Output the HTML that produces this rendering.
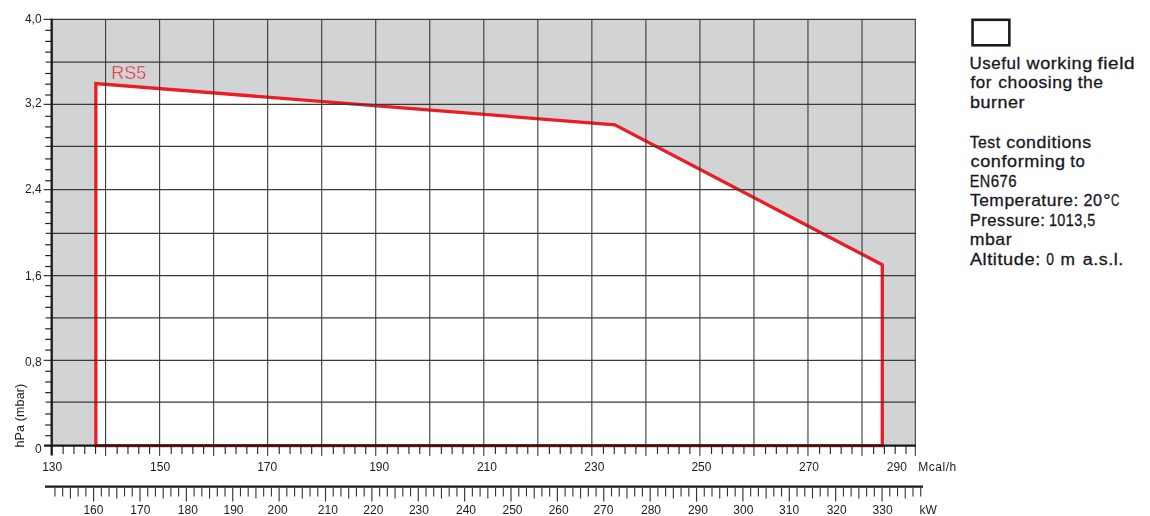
<!DOCTYPE html>
<html><head><meta charset="utf-8"><title>RS5 working field</title>
<style>
html,body{margin:0;padding:0;background:#fff}
body{width:1150px;height:516px;position:relative;overflow:hidden;font-family:"Liberation Sans",sans-serif}
.lg{position:absolute;left:970px;font-size:15px;line-height:18px;height:18px;white-space:nowrap;color:#16161e;letter-spacing:0.3px;transform-origin:0 0;-webkit-text-stroke:0.35px #16161e}
</style></head><body>
<svg width="1150" height="516" viewBox="0 0 1150 516" style="position:absolute;left:0;top:0">
<rect x="51.7" y="19.4" width="863.60" height="426.20" fill="#d1d3d4"/>
<polygon points="95.85,445.60 95.85,83.50 614.90,124.80 882.30,264.80 882.30,445.60" fill="#ffffff"/>
<polygon points="95.85,445.60 95.85,83.50 614.90,124.80 882.30,264.80 882.30,445.60" fill="none" stroke="#ed1c24" stroke-width="3.3" stroke-linejoin="miter"/>
<line x1="105.58" y1="19.4" x2="105.58" y2="456.0" stroke="#3a3a3a" stroke-width="1.1"/>
<line x1="159.61" y1="19.4" x2="159.61" y2="456.0" stroke="#3a3a3a" stroke-width="1.1"/>
<line x1="213.64" y1="19.4" x2="213.64" y2="456.0" stroke="#3a3a3a" stroke-width="1.1"/>
<line x1="267.67" y1="19.4" x2="267.67" y2="456.0" stroke="#3a3a3a" stroke-width="1.1"/>
<line x1="321.70" y1="19.4" x2="321.70" y2="456.0" stroke="#3a3a3a" stroke-width="1.1"/>
<line x1="375.73" y1="19.4" x2="375.73" y2="456.0" stroke="#3a3a3a" stroke-width="1.1"/>
<line x1="429.76" y1="19.4" x2="429.76" y2="456.0" stroke="#3a3a3a" stroke-width="1.1"/>
<line x1="483.79" y1="19.4" x2="483.79" y2="456.0" stroke="#3a3a3a" stroke-width="1.1"/>
<line x1="537.82" y1="19.4" x2="537.82" y2="456.0" stroke="#3a3a3a" stroke-width="1.1"/>
<line x1="591.85" y1="19.4" x2="591.85" y2="456.0" stroke="#3a3a3a" stroke-width="1.1"/>
<line x1="645.88" y1="19.4" x2="645.88" y2="456.0" stroke="#3a3a3a" stroke-width="1.1"/>
<line x1="699.91" y1="19.4" x2="699.91" y2="456.0" stroke="#3a3a3a" stroke-width="1.1"/>
<line x1="753.94" y1="19.4" x2="753.94" y2="456.0" stroke="#3a3a3a" stroke-width="1.1"/>
<line x1="807.97" y1="19.4" x2="807.97" y2="456.0" stroke="#3a3a3a" stroke-width="1.1"/>
<line x1="862.00" y1="19.4" x2="862.00" y2="456.0" stroke="#3a3a3a" stroke-width="1.1"/>
<line x1="915.30" y1="19.4" x2="915.30" y2="456.0" stroke="#3a3a3a" stroke-width="1.1"/>
<line x1="43.6" y1="19.40" x2="915.90" y2="19.40" stroke="#3a3a3a" stroke-width="1.25"/>
<line x1="45.6" y1="62.10" x2="915.90" y2="62.10" stroke="#3a3a3a" stroke-width="1.25"/>
<line x1="43.6" y1="104.40" x2="915.90" y2="104.40" stroke="#3a3a3a" stroke-width="1.25"/>
<line x1="45.6" y1="146.30" x2="915.90" y2="146.30" stroke="#3a3a3a" stroke-width="1.25"/>
<line x1="43.6" y1="189.70" x2="915.90" y2="189.70" stroke="#3a3a3a" stroke-width="1.25"/>
<line x1="45.6" y1="233.40" x2="915.90" y2="233.40" stroke="#3a3a3a" stroke-width="1.25"/>
<line x1="43.6" y1="275.50" x2="915.90" y2="275.50" stroke="#3a3a3a" stroke-width="1.25"/>
<line x1="45.6" y1="317.90" x2="915.90" y2="317.90" stroke="#3a3a3a" stroke-width="1.25"/>
<line x1="43.6" y1="360.40" x2="915.90" y2="360.40" stroke="#3a3a3a" stroke-width="1.25"/>
<line x1="45.6" y1="402.20" x2="915.90" y2="402.20" stroke="#3a3a3a" stroke-width="1.25"/>
<line x1="45.2" y1="30.40" x2="51.7" y2="30.40" stroke="#222" stroke-width="1.2"/>
<line x1="45.2" y1="41.40" x2="51.7" y2="41.40" stroke="#222" stroke-width="1.2"/>
<line x1="45.2" y1="52.10" x2="51.7" y2="52.10" stroke="#222" stroke-width="1.2"/>
<line x1="45.2" y1="73.50" x2="51.7" y2="73.50" stroke="#222" stroke-width="1.2"/>
<line x1="45.2" y1="84.20" x2="51.7" y2="84.20" stroke="#222" stroke-width="1.2"/>
<line x1="45.2" y1="95.00" x2="51.7" y2="95.00" stroke="#222" stroke-width="1.2"/>
<line x1="45.2" y1="116.30" x2="51.7" y2="116.30" stroke="#222" stroke-width="1.2"/>
<line x1="45.2" y1="126.90" x2="51.7" y2="126.90" stroke="#222" stroke-width="1.2"/>
<line x1="45.2" y1="137.60" x2="51.7" y2="137.60" stroke="#222" stroke-width="1.2"/>
<line x1="45.2" y1="158.90" x2="51.7" y2="158.90" stroke="#222" stroke-width="1.2"/>
<line x1="45.2" y1="169.70" x2="51.7" y2="169.70" stroke="#222" stroke-width="1.2"/>
<line x1="45.2" y1="180.80" x2="51.7" y2="180.80" stroke="#222" stroke-width="1.2"/>
<line x1="45.2" y1="201.90" x2="51.7" y2="201.90" stroke="#222" stroke-width="1.2"/>
<line x1="45.2" y1="212.70" x2="51.7" y2="212.70" stroke="#222" stroke-width="1.2"/>
<line x1="45.2" y1="223.50" x2="51.7" y2="223.50" stroke="#222" stroke-width="1.2"/>
<line x1="45.2" y1="244.80" x2="51.7" y2="244.80" stroke="#222" stroke-width="1.2"/>
<line x1="45.2" y1="255.60" x2="51.7" y2="255.60" stroke="#222" stroke-width="1.2"/>
<line x1="45.2" y1="266.50" x2="51.7" y2="266.50" stroke="#222" stroke-width="1.2"/>
<line x1="45.2" y1="285.70" x2="51.7" y2="285.70" stroke="#222" stroke-width="1.2"/>
<line x1="45.2" y1="296.50" x2="51.7" y2="296.50" stroke="#222" stroke-width="1.2"/>
<line x1="45.2" y1="307.40" x2="51.7" y2="307.40" stroke="#222" stroke-width="1.2"/>
<line x1="45.2" y1="328.80" x2="51.7" y2="328.80" stroke="#222" stroke-width="1.2"/>
<line x1="45.2" y1="339.40" x2="51.7" y2="339.40" stroke="#222" stroke-width="1.2"/>
<line x1="45.2" y1="350.10" x2="51.7" y2="350.10" stroke="#222" stroke-width="1.2"/>
<line x1="45.2" y1="371.30" x2="51.7" y2="371.30" stroke="#222" stroke-width="1.2"/>
<line x1="45.2" y1="382.00" x2="51.7" y2="382.00" stroke="#222" stroke-width="1.2"/>
<line x1="45.2" y1="392.60" x2="51.7" y2="392.60" stroke="#222" stroke-width="1.2"/>
<line x1="45.2" y1="414.00" x2="51.7" y2="414.00" stroke="#222" stroke-width="1.2"/>
<line x1="45.2" y1="425.00" x2="51.7" y2="425.00" stroke="#222" stroke-width="1.2"/>
<line x1="45.2" y1="435.70" x2="51.7" y2="435.70" stroke="#222" stroke-width="1.2"/>
<line x1="63.15" y1="445.6" x2="63.15" y2="453.90000000000003" stroke="#2a2a2a" stroke-width="1.15"/>
<line x1="73.95" y1="445.6" x2="73.95" y2="453.90000000000003" stroke="#2a2a2a" stroke-width="1.15"/>
<line x1="84.75" y1="445.6" x2="84.75" y2="453.90000000000003" stroke="#2a2a2a" stroke-width="1.15"/>
<line x1="95.55" y1="445.6" x2="95.55" y2="453.90000000000003" stroke="#2a2a2a" stroke-width="1.15"/>
<line x1="117.18" y1="445.6" x2="117.18" y2="453.90000000000003" stroke="#2a2a2a" stroke-width="1.15"/>
<line x1="127.98" y1="445.6" x2="127.98" y2="453.90000000000003" stroke="#2a2a2a" stroke-width="1.15"/>
<line x1="138.78" y1="445.6" x2="138.78" y2="453.90000000000003" stroke="#2a2a2a" stroke-width="1.15"/>
<line x1="149.58" y1="445.6" x2="149.58" y2="453.90000000000003" stroke="#2a2a2a" stroke-width="1.15"/>
<line x1="171.21" y1="445.6" x2="171.21" y2="453.90000000000003" stroke="#2a2a2a" stroke-width="1.15"/>
<line x1="182.01" y1="445.6" x2="182.01" y2="453.90000000000003" stroke="#2a2a2a" stroke-width="1.15"/>
<line x1="192.81" y1="445.6" x2="192.81" y2="453.90000000000003" stroke="#2a2a2a" stroke-width="1.15"/>
<line x1="203.61" y1="445.6" x2="203.61" y2="453.90000000000003" stroke="#2a2a2a" stroke-width="1.15"/>
<line x1="225.24" y1="445.6" x2="225.24" y2="453.90000000000003" stroke="#2a2a2a" stroke-width="1.15"/>
<line x1="236.04" y1="445.6" x2="236.04" y2="453.90000000000003" stroke="#2a2a2a" stroke-width="1.15"/>
<line x1="246.84" y1="445.6" x2="246.84" y2="453.90000000000003" stroke="#2a2a2a" stroke-width="1.15"/>
<line x1="257.64" y1="445.6" x2="257.64" y2="453.90000000000003" stroke="#2a2a2a" stroke-width="1.15"/>
<line x1="279.27" y1="445.6" x2="279.27" y2="453.90000000000003" stroke="#2a2a2a" stroke-width="1.15"/>
<line x1="290.07" y1="445.6" x2="290.07" y2="453.90000000000003" stroke="#2a2a2a" stroke-width="1.15"/>
<line x1="300.87" y1="445.6" x2="300.87" y2="453.90000000000003" stroke="#2a2a2a" stroke-width="1.15"/>
<line x1="311.67" y1="445.6" x2="311.67" y2="453.90000000000003" stroke="#2a2a2a" stroke-width="1.15"/>
<line x1="333.30" y1="445.6" x2="333.30" y2="453.90000000000003" stroke="#2a2a2a" stroke-width="1.15"/>
<line x1="344.10" y1="445.6" x2="344.10" y2="453.90000000000003" stroke="#2a2a2a" stroke-width="1.15"/>
<line x1="354.90" y1="445.6" x2="354.90" y2="453.90000000000003" stroke="#2a2a2a" stroke-width="1.15"/>
<line x1="365.70" y1="445.6" x2="365.70" y2="453.90000000000003" stroke="#2a2a2a" stroke-width="1.15"/>
<line x1="387.33" y1="445.6" x2="387.33" y2="453.90000000000003" stroke="#2a2a2a" stroke-width="1.15"/>
<line x1="398.13" y1="445.6" x2="398.13" y2="453.90000000000003" stroke="#2a2a2a" stroke-width="1.15"/>
<line x1="408.93" y1="445.6" x2="408.93" y2="453.90000000000003" stroke="#2a2a2a" stroke-width="1.15"/>
<line x1="419.73" y1="445.6" x2="419.73" y2="453.90000000000003" stroke="#2a2a2a" stroke-width="1.15"/>
<line x1="441.36" y1="445.6" x2="441.36" y2="453.90000000000003" stroke="#2a2a2a" stroke-width="1.15"/>
<line x1="452.16" y1="445.6" x2="452.16" y2="453.90000000000003" stroke="#2a2a2a" stroke-width="1.15"/>
<line x1="462.96" y1="445.6" x2="462.96" y2="453.90000000000003" stroke="#2a2a2a" stroke-width="1.15"/>
<line x1="473.76" y1="445.6" x2="473.76" y2="453.90000000000003" stroke="#2a2a2a" stroke-width="1.15"/>
<line x1="495.39" y1="445.6" x2="495.39" y2="453.90000000000003" stroke="#2a2a2a" stroke-width="1.15"/>
<line x1="506.19" y1="445.6" x2="506.19" y2="453.90000000000003" stroke="#2a2a2a" stroke-width="1.15"/>
<line x1="516.99" y1="445.6" x2="516.99" y2="453.90000000000003" stroke="#2a2a2a" stroke-width="1.15"/>
<line x1="527.79" y1="445.6" x2="527.79" y2="453.90000000000003" stroke="#2a2a2a" stroke-width="1.15"/>
<line x1="549.42" y1="445.6" x2="549.42" y2="453.90000000000003" stroke="#2a2a2a" stroke-width="1.15"/>
<line x1="560.22" y1="445.6" x2="560.22" y2="453.90000000000003" stroke="#2a2a2a" stroke-width="1.15"/>
<line x1="571.02" y1="445.6" x2="571.02" y2="453.90000000000003" stroke="#2a2a2a" stroke-width="1.15"/>
<line x1="581.82" y1="445.6" x2="581.82" y2="453.90000000000003" stroke="#2a2a2a" stroke-width="1.15"/>
<line x1="603.45" y1="445.6" x2="603.45" y2="453.90000000000003" stroke="#2a2a2a" stroke-width="1.15"/>
<line x1="614.25" y1="445.6" x2="614.25" y2="453.90000000000003" stroke="#2a2a2a" stroke-width="1.15"/>
<line x1="625.05" y1="445.6" x2="625.05" y2="453.90000000000003" stroke="#2a2a2a" stroke-width="1.15"/>
<line x1="635.85" y1="445.6" x2="635.85" y2="453.90000000000003" stroke="#2a2a2a" stroke-width="1.15"/>
<line x1="657.48" y1="445.6" x2="657.48" y2="453.90000000000003" stroke="#2a2a2a" stroke-width="1.15"/>
<line x1="668.28" y1="445.6" x2="668.28" y2="453.90000000000003" stroke="#2a2a2a" stroke-width="1.15"/>
<line x1="679.08" y1="445.6" x2="679.08" y2="453.90000000000003" stroke="#2a2a2a" stroke-width="1.15"/>
<line x1="689.88" y1="445.6" x2="689.88" y2="453.90000000000003" stroke="#2a2a2a" stroke-width="1.15"/>
<line x1="711.51" y1="445.6" x2="711.51" y2="453.90000000000003" stroke="#2a2a2a" stroke-width="1.15"/>
<line x1="722.31" y1="445.6" x2="722.31" y2="453.90000000000003" stroke="#2a2a2a" stroke-width="1.15"/>
<line x1="733.11" y1="445.6" x2="733.11" y2="453.90000000000003" stroke="#2a2a2a" stroke-width="1.15"/>
<line x1="743.91" y1="445.6" x2="743.91" y2="453.90000000000003" stroke="#2a2a2a" stroke-width="1.15"/>
<line x1="765.54" y1="445.6" x2="765.54" y2="453.90000000000003" stroke="#2a2a2a" stroke-width="1.15"/>
<line x1="776.34" y1="445.6" x2="776.34" y2="453.90000000000003" stroke="#2a2a2a" stroke-width="1.15"/>
<line x1="787.14" y1="445.6" x2="787.14" y2="453.90000000000003" stroke="#2a2a2a" stroke-width="1.15"/>
<line x1="797.94" y1="445.6" x2="797.94" y2="453.90000000000003" stroke="#2a2a2a" stroke-width="1.15"/>
<line x1="819.57" y1="445.6" x2="819.57" y2="453.90000000000003" stroke="#2a2a2a" stroke-width="1.15"/>
<line x1="830.37" y1="445.6" x2="830.37" y2="453.90000000000003" stroke="#2a2a2a" stroke-width="1.15"/>
<line x1="841.17" y1="445.6" x2="841.17" y2="453.90000000000003" stroke="#2a2a2a" stroke-width="1.15"/>
<line x1="851.97" y1="445.6" x2="851.97" y2="453.90000000000003" stroke="#2a2a2a" stroke-width="1.15"/>
<line x1="873.60" y1="445.6" x2="873.60" y2="453.90000000000003" stroke="#2a2a2a" stroke-width="1.15"/>
<line x1="884.40" y1="445.6" x2="884.40" y2="453.90000000000003" stroke="#2a2a2a" stroke-width="1.15"/>
<line x1="895.20" y1="445.6" x2="895.20" y2="453.90000000000003" stroke="#2a2a2a" stroke-width="1.15"/>
<line x1="906.00" y1="445.6" x2="906.00" y2="453.90000000000003" stroke="#2a2a2a" stroke-width="1.15"/>
<line x1="44" y1="445.6" x2="915.90" y2="445.6" stroke="#1a1a1a" stroke-width="2.1"/>
<line x1="51.7" y1="18.799999999999997" x2="51.7" y2="455.6" stroke="#1a1a1a" stroke-width="2.3"/>
<line x1="45" y1="486.6" x2="923" y2="486.6" stroke="#1a1a1a" stroke-width="2.3"/>
<line x1="54.95" y1="486.6" x2="54.95" y2="496.40000000000003" stroke="#333" stroke-width="1.1"/>
<line x1="62.68" y1="486.6" x2="62.68" y2="496.40000000000003" stroke="#333" stroke-width="1.1"/>
<line x1="70.41" y1="486.6" x2="70.41" y2="498.40000000000003" stroke="#333" stroke-width="1.1"/>
<line x1="78.14" y1="486.6" x2="78.14" y2="496.40000000000003" stroke="#333" stroke-width="1.1"/>
<line x1="85.87" y1="486.6" x2="85.87" y2="496.40000000000003" stroke="#333" stroke-width="1.1"/>
<line x1="93.60" y1="486.6" x2="93.60" y2="501.6" stroke="#333" stroke-width="1.15"/>
<line x1="101.33" y1="486.6" x2="101.33" y2="496.40000000000003" stroke="#333" stroke-width="1.1"/>
<line x1="109.06" y1="486.6" x2="109.06" y2="496.40000000000003" stroke="#333" stroke-width="1.1"/>
<line x1="116.79" y1="486.6" x2="116.79" y2="498.40000000000003" stroke="#333" stroke-width="1.1"/>
<line x1="124.52" y1="486.6" x2="124.52" y2="496.40000000000003" stroke="#333" stroke-width="1.1"/>
<line x1="132.25" y1="486.6" x2="132.25" y2="496.40000000000003" stroke="#333" stroke-width="1.1"/>
<line x1="139.98" y1="486.6" x2="139.98" y2="501.6" stroke="#333" stroke-width="1.15"/>
<line x1="147.71" y1="486.6" x2="147.71" y2="496.40000000000003" stroke="#333" stroke-width="1.1"/>
<line x1="155.44" y1="486.6" x2="155.44" y2="496.40000000000003" stroke="#333" stroke-width="1.1"/>
<line x1="163.17" y1="486.6" x2="163.17" y2="498.40000000000003" stroke="#333" stroke-width="1.1"/>
<line x1="170.90" y1="486.6" x2="170.90" y2="496.40000000000003" stroke="#333" stroke-width="1.1"/>
<line x1="178.63" y1="486.6" x2="178.63" y2="496.40000000000003" stroke="#333" stroke-width="1.1"/>
<line x1="186.36" y1="486.6" x2="186.36" y2="501.6" stroke="#333" stroke-width="1.15"/>
<line x1="194.09" y1="486.6" x2="194.09" y2="496.40000000000003" stroke="#333" stroke-width="1.1"/>
<line x1="201.82" y1="486.6" x2="201.82" y2="496.40000000000003" stroke="#333" stroke-width="1.1"/>
<line x1="209.55" y1="486.6" x2="209.55" y2="498.40000000000003" stroke="#333" stroke-width="1.1"/>
<line x1="217.28" y1="486.6" x2="217.28" y2="496.40000000000003" stroke="#333" stroke-width="1.1"/>
<line x1="225.01" y1="486.6" x2="225.01" y2="496.40000000000003" stroke="#333" stroke-width="1.1"/>
<line x1="232.74" y1="486.6" x2="232.74" y2="501.6" stroke="#333" stroke-width="1.15"/>
<line x1="240.47" y1="486.6" x2="240.47" y2="496.40000000000003" stroke="#333" stroke-width="1.1"/>
<line x1="248.20" y1="486.6" x2="248.20" y2="496.40000000000003" stroke="#333" stroke-width="1.1"/>
<line x1="255.93" y1="486.6" x2="255.93" y2="498.40000000000003" stroke="#333" stroke-width="1.1"/>
<line x1="263.66" y1="486.6" x2="263.66" y2="496.40000000000003" stroke="#333" stroke-width="1.1"/>
<line x1="271.39" y1="486.6" x2="271.39" y2="496.40000000000003" stroke="#333" stroke-width="1.1"/>
<line x1="279.12" y1="486.6" x2="279.12" y2="501.6" stroke="#333" stroke-width="1.15"/>
<line x1="286.85" y1="486.6" x2="286.85" y2="496.40000000000003" stroke="#333" stroke-width="1.1"/>
<line x1="294.58" y1="486.6" x2="294.58" y2="496.40000000000003" stroke="#333" stroke-width="1.1"/>
<line x1="302.31" y1="486.6" x2="302.31" y2="498.40000000000003" stroke="#333" stroke-width="1.1"/>
<line x1="310.04" y1="486.6" x2="310.04" y2="496.40000000000003" stroke="#333" stroke-width="1.1"/>
<line x1="317.77" y1="486.6" x2="317.77" y2="496.40000000000003" stroke="#333" stroke-width="1.1"/>
<line x1="325.50" y1="486.6" x2="325.50" y2="501.6" stroke="#333" stroke-width="1.15"/>
<line x1="333.23" y1="486.6" x2="333.23" y2="496.40000000000003" stroke="#333" stroke-width="1.1"/>
<line x1="340.96" y1="486.6" x2="340.96" y2="496.40000000000003" stroke="#333" stroke-width="1.1"/>
<line x1="348.69" y1="486.6" x2="348.69" y2="498.40000000000003" stroke="#333" stroke-width="1.1"/>
<line x1="356.42" y1="486.6" x2="356.42" y2="496.40000000000003" stroke="#333" stroke-width="1.1"/>
<line x1="364.15" y1="486.6" x2="364.15" y2="496.40000000000003" stroke="#333" stroke-width="1.1"/>
<line x1="371.88" y1="486.6" x2="371.88" y2="501.6" stroke="#333" stroke-width="1.15"/>
<line x1="379.61" y1="486.6" x2="379.61" y2="496.40000000000003" stroke="#333" stroke-width="1.1"/>
<line x1="387.34" y1="486.6" x2="387.34" y2="496.40000000000003" stroke="#333" stroke-width="1.1"/>
<line x1="395.07" y1="486.6" x2="395.07" y2="498.40000000000003" stroke="#333" stroke-width="1.1"/>
<line x1="402.80" y1="486.6" x2="402.80" y2="496.40000000000003" stroke="#333" stroke-width="1.1"/>
<line x1="410.53" y1="486.6" x2="410.53" y2="496.40000000000003" stroke="#333" stroke-width="1.1"/>
<line x1="418.26" y1="486.6" x2="418.26" y2="501.6" stroke="#333" stroke-width="1.15"/>
<line x1="425.99" y1="486.6" x2="425.99" y2="496.40000000000003" stroke="#333" stroke-width="1.1"/>
<line x1="433.72" y1="486.6" x2="433.72" y2="496.40000000000003" stroke="#333" stroke-width="1.1"/>
<line x1="441.45" y1="486.6" x2="441.45" y2="498.40000000000003" stroke="#333" stroke-width="1.1"/>
<line x1="449.18" y1="486.6" x2="449.18" y2="496.40000000000003" stroke="#333" stroke-width="1.1"/>
<line x1="456.91" y1="486.6" x2="456.91" y2="496.40000000000003" stroke="#333" stroke-width="1.1"/>
<line x1="464.64" y1="486.6" x2="464.64" y2="501.6" stroke="#333" stroke-width="1.15"/>
<line x1="472.37" y1="486.6" x2="472.37" y2="496.40000000000003" stroke="#333" stroke-width="1.1"/>
<line x1="480.10" y1="486.6" x2="480.10" y2="496.40000000000003" stroke="#333" stroke-width="1.1"/>
<line x1="487.83" y1="486.6" x2="487.83" y2="498.40000000000003" stroke="#333" stroke-width="1.1"/>
<line x1="495.56" y1="486.6" x2="495.56" y2="496.40000000000003" stroke="#333" stroke-width="1.1"/>
<line x1="503.29" y1="486.6" x2="503.29" y2="496.40000000000003" stroke="#333" stroke-width="1.1"/>
<line x1="511.02" y1="486.6" x2="511.02" y2="501.6" stroke="#333" stroke-width="1.15"/>
<line x1="518.75" y1="486.6" x2="518.75" y2="496.40000000000003" stroke="#333" stroke-width="1.1"/>
<line x1="526.48" y1="486.6" x2="526.48" y2="496.40000000000003" stroke="#333" stroke-width="1.1"/>
<line x1="534.21" y1="486.6" x2="534.21" y2="498.40000000000003" stroke="#333" stroke-width="1.1"/>
<line x1="541.94" y1="486.6" x2="541.94" y2="496.40000000000003" stroke="#333" stroke-width="1.1"/>
<line x1="549.67" y1="486.6" x2="549.67" y2="496.40000000000003" stroke="#333" stroke-width="1.1"/>
<line x1="557.40" y1="486.6" x2="557.40" y2="501.6" stroke="#333" stroke-width="1.15"/>
<line x1="565.13" y1="486.6" x2="565.13" y2="496.40000000000003" stroke="#333" stroke-width="1.1"/>
<line x1="572.86" y1="486.6" x2="572.86" y2="496.40000000000003" stroke="#333" stroke-width="1.1"/>
<line x1="580.59" y1="486.6" x2="580.59" y2="498.40000000000003" stroke="#333" stroke-width="1.1"/>
<line x1="588.32" y1="486.6" x2="588.32" y2="496.40000000000003" stroke="#333" stroke-width="1.1"/>
<line x1="596.05" y1="486.6" x2="596.05" y2="496.40000000000003" stroke="#333" stroke-width="1.1"/>
<line x1="603.78" y1="486.6" x2="603.78" y2="501.6" stroke="#333" stroke-width="1.15"/>
<line x1="611.51" y1="486.6" x2="611.51" y2="496.40000000000003" stroke="#333" stroke-width="1.1"/>
<line x1="619.24" y1="486.6" x2="619.24" y2="496.40000000000003" stroke="#333" stroke-width="1.1"/>
<line x1="626.97" y1="486.6" x2="626.97" y2="498.40000000000003" stroke="#333" stroke-width="1.1"/>
<line x1="634.70" y1="486.6" x2="634.70" y2="496.40000000000003" stroke="#333" stroke-width="1.1"/>
<line x1="642.43" y1="486.6" x2="642.43" y2="496.40000000000003" stroke="#333" stroke-width="1.1"/>
<line x1="650.16" y1="486.6" x2="650.16" y2="501.6" stroke="#333" stroke-width="1.15"/>
<line x1="657.89" y1="486.6" x2="657.89" y2="496.40000000000003" stroke="#333" stroke-width="1.1"/>
<line x1="665.62" y1="486.6" x2="665.62" y2="496.40000000000003" stroke="#333" stroke-width="1.1"/>
<line x1="673.35" y1="486.6" x2="673.35" y2="498.40000000000003" stroke="#333" stroke-width="1.1"/>
<line x1="681.08" y1="486.6" x2="681.08" y2="496.40000000000003" stroke="#333" stroke-width="1.1"/>
<line x1="688.81" y1="486.6" x2="688.81" y2="496.40000000000003" stroke="#333" stroke-width="1.1"/>
<line x1="696.54" y1="486.6" x2="696.54" y2="501.6" stroke="#333" stroke-width="1.15"/>
<line x1="704.27" y1="486.6" x2="704.27" y2="496.40000000000003" stroke="#333" stroke-width="1.1"/>
<line x1="712.00" y1="486.6" x2="712.00" y2="496.40000000000003" stroke="#333" stroke-width="1.1"/>
<line x1="719.73" y1="486.6" x2="719.73" y2="498.40000000000003" stroke="#333" stroke-width="1.1"/>
<line x1="727.46" y1="486.6" x2="727.46" y2="496.40000000000003" stroke="#333" stroke-width="1.1"/>
<line x1="735.19" y1="486.6" x2="735.19" y2="496.40000000000003" stroke="#333" stroke-width="1.1"/>
<line x1="742.92" y1="486.6" x2="742.92" y2="501.6" stroke="#333" stroke-width="1.15"/>
<line x1="750.65" y1="486.6" x2="750.65" y2="496.40000000000003" stroke="#333" stroke-width="1.1"/>
<line x1="758.38" y1="486.6" x2="758.38" y2="496.40000000000003" stroke="#333" stroke-width="1.1"/>
<line x1="766.11" y1="486.6" x2="766.11" y2="498.40000000000003" stroke="#333" stroke-width="1.1"/>
<line x1="773.84" y1="486.6" x2="773.84" y2="496.40000000000003" stroke="#333" stroke-width="1.1"/>
<line x1="781.57" y1="486.6" x2="781.57" y2="496.40000000000003" stroke="#333" stroke-width="1.1"/>
<line x1="789.30" y1="486.6" x2="789.30" y2="501.6" stroke="#333" stroke-width="1.15"/>
<line x1="797.03" y1="486.6" x2="797.03" y2="496.40000000000003" stroke="#333" stroke-width="1.1"/>
<line x1="804.76" y1="486.6" x2="804.76" y2="496.40000000000003" stroke="#333" stroke-width="1.1"/>
<line x1="812.49" y1="486.6" x2="812.49" y2="498.40000000000003" stroke="#333" stroke-width="1.1"/>
<line x1="820.22" y1="486.6" x2="820.22" y2="496.40000000000003" stroke="#333" stroke-width="1.1"/>
<line x1="827.95" y1="486.6" x2="827.95" y2="496.40000000000003" stroke="#333" stroke-width="1.1"/>
<line x1="835.68" y1="486.6" x2="835.68" y2="501.6" stroke="#333" stroke-width="1.15"/>
<line x1="843.41" y1="486.6" x2="843.41" y2="496.40000000000003" stroke="#333" stroke-width="1.1"/>
<line x1="851.14" y1="486.6" x2="851.14" y2="496.40000000000003" stroke="#333" stroke-width="1.1"/>
<line x1="858.87" y1="486.6" x2="858.87" y2="498.40000000000003" stroke="#333" stroke-width="1.1"/>
<line x1="866.60" y1="486.6" x2="866.60" y2="496.40000000000003" stroke="#333" stroke-width="1.1"/>
<line x1="874.33" y1="486.6" x2="874.33" y2="496.40000000000003" stroke="#333" stroke-width="1.1"/>
<line x1="882.06" y1="486.6" x2="882.06" y2="501.6" stroke="#333" stroke-width="1.15"/>
<line x1="889.79" y1="486.6" x2="889.79" y2="496.40000000000003" stroke="#333" stroke-width="1.1"/>
<line x1="897.52" y1="486.6" x2="897.52" y2="496.40000000000003" stroke="#333" stroke-width="1.1"/>
<line x1="905.25" y1="486.6" x2="905.25" y2="498.40000000000003" stroke="#333" stroke-width="1.1"/>
<line x1="912.98" y1="486.6" x2="912.98" y2="496.40000000000003" stroke="#333" stroke-width="1.1"/>
<line x1="920.71" y1="486.6" x2="920.71" y2="496.40000000000003" stroke="#333" stroke-width="1.1"/>
<g style="filter:grayscale(1)">
<text x="41.6" y="22.7" font-size="12" text-anchor="end" font-family="Liberation Sans, sans-serif" fill="#1a1a1a">4,0</text>
<text x="41.6" y="107.0" font-size="12" text-anchor="end" font-family="Liberation Sans, sans-serif" fill="#1a1a1a">3,2</text>
<text x="41.6" y="193.4" font-size="12" text-anchor="end" font-family="Liberation Sans, sans-serif" fill="#1a1a1a">2,4</text>
<text x="41.6" y="279.7" font-size="12" text-anchor="end" font-family="Liberation Sans, sans-serif" fill="#1a1a1a">1,6</text>
<text x="41.6" y="366.2" font-size="12" text-anchor="end" font-family="Liberation Sans, sans-serif" fill="#1a1a1a">0,8</text>
<text x="41.6" y="453.4" font-size="12" text-anchor="end" font-family="Liberation Sans, sans-serif" fill="#1a1a1a">0</text>
<text x="52.2" y="470.5" font-size="12" text-anchor="middle" font-family="Liberation Sans, sans-serif" fill="#1a1a1a">130</text>
<text x="160.1" y="470.5" font-size="12" text-anchor="middle" font-family="Liberation Sans, sans-serif" fill="#1a1a1a">150</text>
<text x="267.2" y="470.5" font-size="12" text-anchor="middle" font-family="Liberation Sans, sans-serif" fill="#1a1a1a">170</text>
<text x="379.2" y="470.5" font-size="12" text-anchor="middle" font-family="Liberation Sans, sans-serif" fill="#1a1a1a">190</text>
<text x="486.9" y="470.5" font-size="12" text-anchor="middle" font-family="Liberation Sans, sans-serif" fill="#1a1a1a">210</text>
<text x="594.3" y="470.5" font-size="12" text-anchor="middle" font-family="Liberation Sans, sans-serif" fill="#1a1a1a">230</text>
<text x="701.4" y="470.5" font-size="12" text-anchor="middle" font-family="Liberation Sans, sans-serif" fill="#1a1a1a">250</text>
<text x="809.0" y="470.5" font-size="12" text-anchor="middle" font-family="Liberation Sans, sans-serif" fill="#1a1a1a">270</text>
<text x="896.8" y="470.5" font-size="12" text-anchor="middle" font-family="Liberation Sans, sans-serif" fill="#1a1a1a">290</text>
<text x="918.2" y="470.5" font-size="12" letter-spacing="0.55" font-family="Liberation Sans, sans-serif" fill="#1a1a1a">Mcal/h</text>
<text x="93.4" y="513.6" font-size="12" text-anchor="middle" font-family="Liberation Sans, sans-serif" fill="#1a1a1a">160</text>
<text x="140.3" y="513.6" font-size="12" text-anchor="middle" font-family="Liberation Sans, sans-serif" fill="#1a1a1a">170</text>
<text x="187.8" y="513.6" font-size="12" text-anchor="middle" font-family="Liberation Sans, sans-serif" fill="#1a1a1a">180</text>
<text x="233.5" y="513.6" font-size="12" text-anchor="middle" font-family="Liberation Sans, sans-serif" fill="#1a1a1a">190</text>
<text x="277.6" y="513.6" font-size="12" text-anchor="middle" font-family="Liberation Sans, sans-serif" fill="#1a1a1a">200</text>
<text x="327.8" y="513.6" font-size="12" text-anchor="middle" font-family="Liberation Sans, sans-serif" fill="#1a1a1a">210</text>
<text x="373.3" y="513.6" font-size="12" text-anchor="middle" font-family="Liberation Sans, sans-serif" fill="#1a1a1a">220</text>
<text x="418.9" y="513.6" font-size="12" text-anchor="middle" font-family="Liberation Sans, sans-serif" fill="#1a1a1a">230</text>
<text x="466.0" y="513.6" font-size="12" text-anchor="middle" font-family="Liberation Sans, sans-serif" fill="#1a1a1a">240</text>
<text x="512.5" y="513.6" font-size="12" text-anchor="middle" font-family="Liberation Sans, sans-serif" fill="#1a1a1a">250</text>
<text x="558.7" y="513.6" font-size="12" text-anchor="middle" font-family="Liberation Sans, sans-serif" fill="#1a1a1a">260</text>
<text x="603.4" y="513.6" font-size="12" text-anchor="middle" font-family="Liberation Sans, sans-serif" fill="#1a1a1a">270</text>
<text x="651.0" y="513.6" font-size="12" text-anchor="middle" font-family="Liberation Sans, sans-serif" fill="#1a1a1a">280</text>
<text x="697.9" y="513.6" font-size="12" text-anchor="middle" font-family="Liberation Sans, sans-serif" fill="#1a1a1a">290</text>
<text x="743.3" y="513.6" font-size="12" text-anchor="middle" font-family="Liberation Sans, sans-serif" fill="#1a1a1a">300</text>
<text x="789.1" y="513.6" font-size="12" text-anchor="middle" font-family="Liberation Sans, sans-serif" fill="#1a1a1a">310</text>
<text x="836.7" y="513.6" font-size="12" text-anchor="middle" font-family="Liberation Sans, sans-serif" fill="#1a1a1a">320</text>
<text x="882.6" y="513.6" font-size="12" text-anchor="middle" font-family="Liberation Sans, sans-serif" fill="#1a1a1a">330</text>
<text x="919.6" y="513.6" font-size="12" font-family="Liberation Sans, sans-serif" fill="#1a1a1a">kW</text>
<text transform="translate(23.5,447.6) rotate(-90)" font-size="12.5" letter-spacing="0.15" font-family="Liberation Sans, sans-serif" fill="#1a1a1a">hPa (mbar)</text>
</g>
<text x="111.2" y="79.1" font-size="18" font-family="Liberation Sans, sans-serif" fill="#ed1c24" stroke="#d1d3d4" stroke-width="0.5" style="paint-order:fill stroke">RS5</text>
<rect x="972.55" y="19.8" width="36.8" height="25.5" fill="#fff" stroke="#1c1a1a" stroke-width="2.6"/>
<text transform="translate(969.54,68.8) scale(1.0627,1)" font-size="16" font-family="Liberation Sans, sans-serif" fill="#16161e" stroke="#16161e" stroke-width="0.28" letter-spacing="0.5">Useful</text>
<text transform="translate(1026.53,68.8) scale(1.1299,1)" font-size="16" font-family="Liberation Sans, sans-serif" fill="#16161e" stroke="#16161e" stroke-width="0.28" letter-spacing="0.5">working</text>
<text transform="translate(1097.40,68.8) scale(1.1821,1)" font-size="16" font-family="Liberation Sans, sans-serif" fill="#16161e" stroke="#16161e" stroke-width="0.28" letter-spacing="0.5">field</text>
<text transform="translate(970.60,88.3) scale(1.0568,1)" font-size="16" font-family="Liberation Sans, sans-serif" fill="#16161e" stroke="#16161e" stroke-width="0.28" letter-spacing="0.5">for</text>
<text transform="translate(998.30,88.3) scale(1.0968,1)" font-size="16" font-family="Liberation Sans, sans-serif" fill="#16161e" stroke="#16161e" stroke-width="0.28" letter-spacing="0.5">choosing</text>
<text transform="translate(1077.70,88.3) scale(1.0924,1)" font-size="16" font-family="Liberation Sans, sans-serif" fill="#16161e" stroke="#16161e" stroke-width="0.28" letter-spacing="0.5">the</text>
<text transform="translate(969.88,107.8) scale(1.1235,1)" font-size="16" font-family="Liberation Sans, sans-serif" fill="#16161e" stroke="#16161e" stroke-width="0.28" letter-spacing="0.5">burner</text>
<text transform="translate(969.70,147.5) scale(0.9873,1)" font-size="16" font-family="Liberation Sans, sans-serif" fill="#16161e" stroke="#16161e" stroke-width="0.28" letter-spacing="0.5">Test</text>
<text transform="translate(1006.20,147.5) scale(1.1104,1)" font-size="16" font-family="Liberation Sans, sans-serif" fill="#16161e" stroke="#16161e" stroke-width="0.28" letter-spacing="0.5">conditions</text>
<text transform="translate(970.60,167.0) scale(1.1299,1)" font-size="16" font-family="Liberation Sans, sans-serif" fill="#16161e" stroke="#16161e" stroke-width="0.28" letter-spacing="0.5">conforming</text>
<text transform="translate(1070.30,167.0) scale(1.0469,1)" font-size="16" font-family="Liberation Sans, sans-serif" fill="#16161e" stroke="#16161e" stroke-width="0.28" letter-spacing="0.5">to</text>
<text transform="translate(969.70,186.5) scale(0.9021,1)" font-size="16" font-family="Liberation Sans, sans-serif" fill="#16161e" stroke="#16161e" stroke-width="0.28" letter-spacing="0.5">EN</text>
<text transform="translate(990.70,186.5) scale(0.9354,1)" font-size="16" font-family="Liberation Sans, sans-serif" fill="#16161e" stroke="#16161e" stroke-width="0.28" letter-spacing="0.5">676</text>
<text transform="translate(969.90,206.0) scale(1.0873,1)" font-size="16" font-family="Liberation Sans, sans-serif" fill="#16161e" stroke="#16161e" stroke-width="0.28" letter-spacing="0.5">Temperature:</text>
<text transform="translate(1083.60,206.0) scale(1.0110,1)" font-size="16" font-family="Liberation Sans, sans-serif" fill="#16161e" stroke="#16161e" stroke-width="0.28" letter-spacing="0.5">20</text>
<text transform="translate(1103.20,206.0) scale(1.1333,1)" font-size="16" font-family="Liberation Sans, sans-serif" fill="#16161e" stroke="#16161e" stroke-width="0.28" letter-spacing="0.5">°</text>
<text transform="translate(1110.90,206.0) scale(0.7273,1)" font-size="16" font-family="Liberation Sans, sans-serif" fill="#16161e" stroke="#16161e" stroke-width="0.28" letter-spacing="0.5">C</text>
<text transform="translate(969.76,225.5) scale(1.0368,1)" font-size="16" font-family="Liberation Sans, sans-serif" fill="#16161e" stroke="#16161e" stroke-width="0.28" letter-spacing="0.5">Pressure:</text>
<text transform="translate(1048.90,225.5) scale(0.9023,1)" font-size="16" font-family="Liberation Sans, sans-serif" fill="#16161e" stroke="#16161e" stroke-width="0.28" letter-spacing="0.5">1013,5</text>
<text transform="translate(969.69,245.0) scale(1.1056,1)" font-size="16" font-family="Liberation Sans, sans-serif" fill="#16161e" stroke="#16161e" stroke-width="0.28" letter-spacing="0.5">mbar</text>
<text transform="translate(969.90,264.5) scale(1.1380,1)" font-size="16" font-family="Liberation Sans, sans-serif" fill="#16161e" stroke="#16161e" stroke-width="0.28" letter-spacing="0.5">Altitude:</text>
<text transform="translate(1046.30,264.5) scale(0.8667,1)" font-size="16" font-family="Liberation Sans, sans-serif" fill="#16161e" stroke="#16161e" stroke-width="0.28" letter-spacing="0.5">0</text>
<text transform="translate(1060.62,264.5) scale(1.0833,1)" font-size="16" font-family="Liberation Sans, sans-serif" fill="#16161e" stroke="#16161e" stroke-width="0.28" letter-spacing="0.5">m</text>
<text transform="translate(1082.70,264.5) scale(1.1193,1)" font-size="16" font-family="Liberation Sans, sans-serif" fill="#16161e" stroke="#16161e" stroke-width="0.28" letter-spacing="0.5">a.s.l.</text>
</svg>

</body></html>
